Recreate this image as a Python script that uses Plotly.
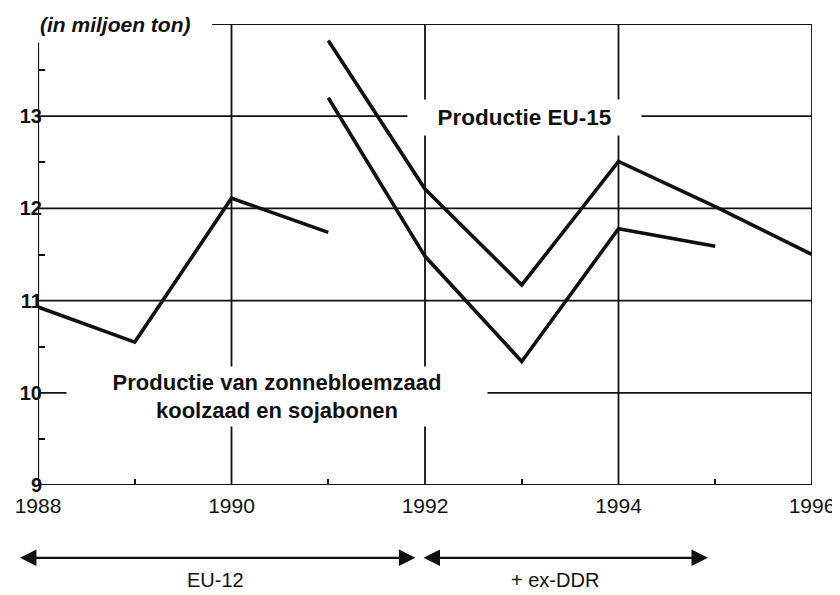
import plotly.graph_objects as go

# ---- data ----
years_eu12 = [1988, 1989, 1990, 1991]
prod_eu12 = [10.93, 10.55, 12.11, 11.74]

years_eu15 = [1991, 1992, 1993, 1994, 1995, 1996]
prod_eu15 = [13.82, 12.21, 11.17, 12.51, 12.02, 11.50]

years_lower = [1991, 1992, 1993, 1994, 1995]
prod_lower = [13.20, 11.48, 10.34, 11.78, 11.59]

x_tick_years = [1988, 1990, 1992, 1994, 1996]
x_minor_years = [1989, 1991, 1993, 1995]
y_tick_vals = [9, 10, 11, 12, 13]
y_minor_vals = [9.5, 10.5, 11.5, 12.5, 13.5]
grid_years = [1990, 1992, 1994, 1996]
grid_vals = [10, 11, 12, 13]

FONT = "Liberation Sans, Arial, sans-serif"
INK = "#111111"

fig = go.Figure()
for xs, ys in [(years_eu12, prod_eu12), (years_eu15, prod_eu15), (years_lower, prod_lower)]:
    fig.add_trace(go.Scatter(x=xs, y=ys, mode="lines",
                             line=dict(color=INK, width=3.6),
                             hoverinfo="skip", showlegend=False))

shapes = []
gw = 1.8
for v in grid_vals:
    shapes.append(dict(type="line", xref="x", yref="y", x0=1988, x1=1996, y0=v, y1=v,
                       line=dict(color=INK, width=gw), layer="below"))
for yr in grid_years:
    shapes.append(dict(type="line", xref="x", yref="y", x0=yr, x1=yr, y0=9, y1=14,
                       line=dict(color=INK, width=gw), layer="below"))
# top border (starts after the unit label)
shapes.append(dict(type="line", xref="x", yref="y", x0=1989.8, x1=1996, y0=14, y1=14,
                   line=dict(color=INK, width=gw), layer="below"))
# bottom axis
shapes.append(dict(type="line", xref="x", yref="y", x0=1988, x1=1996, y0=9, y1=9,
                   line=dict(color=INK, width=2.2), layer="below"))
# left axis
shapes.append(dict(type="line", xref="x", yref="y", x0=1988, x1=1988, y0=9, y1=13.8,
                   line=dict(color=INK, width=2.2), layer="below"))

annotations = [
    dict(text="(in miljoen ton)", xref="paper", yref="paper", x=0, y=1,
         xanchor="left", yanchor="middle", showarrow=False,
         font=dict(family=FONT, size=21, color=INK, style="italic", weight="bold")),
    dict(text="Productie EU-15", xref="x", yref="y", x=1993.03, y=12.99,
         xanchor="center", yanchor="middle", showarrow=False,
         width=233, height=35, bgcolor="white", borderpad=0,
         font=dict(family=FONT, size=22.5, color=INK, weight="bold")),
    dict(text="Productie van zonnebloemzaad<br>koolzaad en sojabonen", xref="x", yref="y",
         x=1990.47, y=9.96, xanchor="center", yanchor="middle", showarrow=False,
         width=420, height=59, bgcolor="white", borderpad=0,
         font=dict(family=FONT, size=22, color=INK, weight="bold")),
    # period arrows
    dict(text="", xref="paper", yref="paper", x=-0.0233, y=-0.158,
         axref="pixel", ayref="pixel", ax=397, ay=0, showarrow=True,
         arrowside="end+start", arrowhead=2, startarrowhead=2,
         arrowsize=1.5, startarrowsize=1.5, arrowwidth=2.2, arrowcolor=INK),
    dict(text="", xref="paper", yref="paper", x=0.8656, y=-0.158,
         axref="pixel", ayref="pixel", ax=-286, ay=0, showarrow=True,
         arrowside="end+start", arrowhead=2, startarrowhead=2,
         arrowsize=1.5, startarrowsize=1.5, arrowwidth=2.2, arrowcolor=INK),
    dict(text="EU-12", xref="paper", yref="paper", x=0.229, y=-0.206,
         xanchor="center", yanchor="middle", showarrow=False,
         font=dict(family=FONT, size=20, color=INK)),
    dict(text="+ ex-DDR", xref="paper", yref="paper", x=0.668, y=-0.206,
         xanchor="center", yanchor="middle", showarrow=False,
         font=dict(family=FONT, size=20, color=INK)),
]

# the page body adds an 8px offset, so the figure is 8px smaller than the window
fig.update_layout(
    width=832, height=587,
    margin=dict(l=30, r=28, t=16, b=110),
    paper_bgcolor="white", plot_bgcolor="white",
    showlegend=False,
    shapes=shapes, annotations=annotations,
    xaxis=dict(range=[1988, 1996], showgrid=False, zeroline=False, showline=False,
               automargin=False,
               tickvals=x_tick_years, ticktext=[str(y) for y in x_tick_years],
               ticks="", ticklabelstandoff=6,
               tickfont=dict(family=FONT, size=21, color=INK),
               minor=dict(tickvals=x_minor_years, ticks="inside", ticklen=6,
                          tickwidth=2, tickcolor=INK, showgrid=False)),
    yaxis=dict(range=[9, 14], showgrid=False, zeroline=False, showline=False,
               automargin=False,
               tickvals=y_tick_vals, ticktext=[str(v) for v in y_tick_vals],
               ticks="", ticklabelstandoff=-5,
               tickfont=dict(family=FONT, size=20, color=INK, weight="bold"),
               minor=dict(tickvals=y_minor_vals, ticks="inside", ticklen=7,
                          tickwidth=2, tickcolor=INK, showgrid=False)),
)

fig.write_html("out.html")
